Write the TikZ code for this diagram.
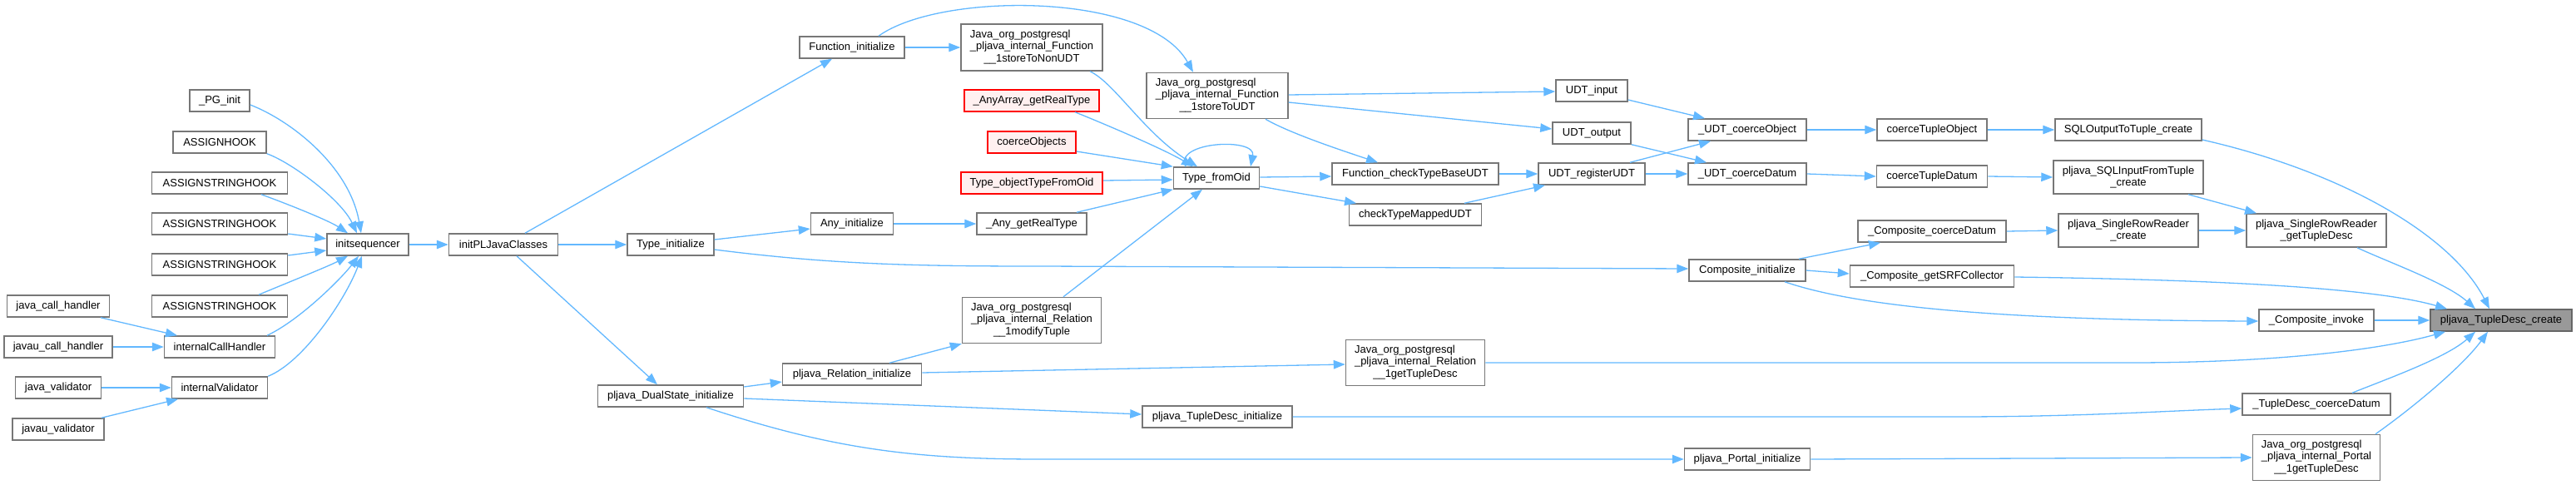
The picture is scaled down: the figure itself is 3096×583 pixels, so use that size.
\documentclass[tikz,border=0pt]{standalone}
\usepackage{fontspec}
\setmainfont{Liberation Sans}
\usetikzlibrary{arrows.meta}
\definecolor{edgeblue}{HTML}{63B8FF}
\definecolor{boxgray}{HTML}{777777}
\definecolor{redfill}{HTML}{FFF0F0}
\definecolor{targetfill}{HTML}{999999}
\definecolor{targetdraw}{HTML}{666666}
\newcommand{\nodefont}{\fontsize{13pt}{14.5pt}\selectfont}
\newcommand{\jtxt}[3]{\begin{tabular}{@{}l@{}}#1\\#2\\\multicolumn{1}{@{}c@{}}{#3}\end{tabular}}
\tikzset{
  box/.style={draw=boxgray, fill=white, line width=1.5pt, inner sep=0pt, font=\nodefont, align=center, minimum height=26pt},
  redbox/.style={box, draw=red, fill=redfill},
  targetbox/.style={box, draw=targetdraw, fill=targetfill},
  edge/.style={draw=edgeblue, line width=1.3pt, -{Triangle[length=14pt,width=10.5pt]}}
}
\begin{document}
\begin{tikzpicture}[x=1pt,y=-1pt]
\useasboundingbox (0,0) rectangle (3096,583);
% nodes
\node[box,minimum width=72pt] (pginit) at (264,121) {\_PG\_init};
\node[box,minimum width=112pt] (assignhook) at (264,171) {ASSIGNHOOK};
\node[box,minimum width=163pt] (ash1) at (264,220) {ASSIGNSTRINGHOOK};
\node[box,minimum width=163pt] (ash2) at (264,269) {ASSIGNSTRINGHOOK};
\node[box,minimum width=163pt] (ash3) at (264,318) {ASSIGNSTRINGHOOK};
\node[box,minimum width=163pt] (ash4) at (264,368) {ASSIGNSTRINGHOOK};
\node[box,minimum width=123pt] (jch) at (70,368) {java\_call\_handler};
\node[box,minimum width=130pt] (jvch) at (70,417) {javau\_call\_handler};
\node[box,minimum width=133pt] (ich) at (264,417) {internalCallHandler};
\node[box,minimum width=103pt] (jv) at (70,466) {java\_validator};
\node[box,minimum width=115pt] (iv) at (264,466) {internalValidator};
\node[box,minimum width=110pt] (jvv) at (70,516) {javau\_validator};
\node[box,minimum width=98pt] (initseq) at (442,294) {initsequencer};
\node[box,minimum width=131pt] (initpl) at (605,294) {initPLJavaClasses};
\node[box,minimum width=104pt] (typeinit) at (806,294) {Type\_initialize};
\node[box,minimum width=175pt] (dualstate) at (806,476) {pljava\_DualState\_initialize};
\node[box,minimum width=126pt] (funcinit) at (1024,57) {Function\_initialize};
\node[box,minimum width=99pt] (anyinit) at (1024,269) {Any\_initialize};
\node[box,minimum width=167pt] (relinit) at (1024,450) {pljava\_Relation\_initialize};
\node[box,minimum width=170pt,minimum height=56pt] (nonudt) at (1240,57) {\jtxt{Java\_org\_postgresql}{\_pljava\_internal\_Function}{\_\_1storeToNonUDT}};
\node[redbox,minimum width=162pt] (anyarray) at (1240,121) {\_AnyArray\_getRealType};
\node[redbox,minimum width=106pt] (coerceobj) at (1240,171) {coerceObjects};
\node[redbox,minimum width=170pt] (objtype) at (1240,220) {Type\_objectTypeFromOid};
\node[box,minimum width=132pt] (anyreal) at (1240,269) {\_Any\_getRealType};
\node[box,minimum width=167pt,minimum height=55pt] (modtuple) at (1240,385) {\jtxt{Java\_org\_postgresql}{\_pljava\_internal\_Relation}{\_\_1modifyTuple}};
\node[box,minimum width=170pt,minimum height=55pt] (udt) at (1463,115) {\jtxt{Java\_org\_postgresql}{\_pljava\_internal\_Function}{\_\_1storeToUDT}};
\node[box,minimum width=103pt] (fromoid) at (1462,214) {Type\_fromOid};
\node[box,minimum width=180pt] (tdinit) at (1463,501) {pljava\_TupleDesc\_initialize};
\node[box,minimum width=200pt] (checkbase) at (1701,209) {Function\_checkTypeBaseUDT};
\node[box,minimum width=159pt] (checkmapped) at (1701,258) {checkTypeMappedUDT};
\node[box,minimum width=167pt,minimum height=55pt] (relgettd) at (1701,436) {\jtxt{Java\_org\_postgresql}{\_pljava\_internal\_Relation}{\_\_1getTupleDesc}};
\node[box,minimum width=86pt] (udtinput) at (1913,109) {UDT\_input};
\node[box,minimum width=94pt] (udtoutput) at (1913,160) {UDT\_output};
\node[box,minimum width=128pt] (udtreg) at (1913,209) {UDT\_registerUDT};
\node[box,minimum width=142pt] (coerceobject) at (2100,156) {\_UDT\_coerceObject};
\node[box,minimum width=142pt] (coercedatum) at (2100,209) {\_UDT\_coerceDatum};
\node[box,minimum width=140pt] (compinit) at (2100,325) {Composite\_initialize};
\node[box,minimum width=151pt] (portalinit) at (2100,552) {pljava\_Portal\_initialize};
\node[box,minimum width=132pt] (ctobject) at (2322,156) {coerceTupleObject};
\node[box,minimum width=133pt] (ctdatum) at (2322,212) {coerceTupleDatum};
\node[box,minimum width=178pt] (compcoerce) at (2322,278) {\_Composite\_coerceDatum};
\node[box,minimum width=197pt] (compsrf) at (2322,332) {\_Composite\_getSRFCollector};
\node[box,minimum width=176pt] (sqlout) at (2558,156) {SQLOutputToTuple\_create};
\node[box,minimum width=180pt,minimum height=40pt] (sqlin) at (2558,213) {pljava\_SQLInputFromTuple\\\_create};
\node[box,minimum width=168pt,minimum height=40pt] (srrcreate) at (2558,277) {pljava\_SingleRowReader\\\_create};
\node[box,minimum width=168pt,minimum height=40pt] (srrget) at (2784,277) {pljava\_SingleRowReader\\\_getTupleDesc};
\node[box,minimum width=138pt] (compinvoke) at (2784,385) {\_Composite\_invoke};
\node[box,minimum width=178pt] (tdcoerce) at (2784,486) {\_TupleDesc\_coerceDatum};
\node[box,minimum width=153pt,minimum height=55pt] (portalget) at (2784,550) {\jtxt{Java\_org\_postgresql}{\_pljava\_internal\_Portal}{\_\_1getTupleDesc}};
\node[targetbox,minimum width=170pt] (target) at (3006,385) {pljava\_TupleDesc\_create};
% edges
\draw[edge] ([yshift=-5pt]pginit.east) .. controls (350,145) and (420,200) .. ([xshift=-8pt]initseq.north);
\draw[edge] (assignhook.south east) .. controls (350,195) and (410,240) .. ([xshift=-13pt]initseq.north);
\draw[edge] ([xshift=50pt]ash1.south) .. controls (345,245) and (395,265) .. ([xshift=-24pt]initseq.north);
\draw[edge] ([yshift=-12pt]ash2.east) -- ([yshift=7pt]initseq.west);
\draw[edge] ([yshift=11pt]ash3.east) -- ([yshift=-7pt]initseq.west);
\draw[edge] ([xshift=47pt]ash4.north) .. controls (345,340) and (395,320) .. ([xshift=-24pt]initseq.south);
\draw[edge] ([xshift=57pt]ich.north) .. controls (360,385) and (410,335) .. ([xshift=-11pt]initseq.south);
\draw[edge] (iv.north east) .. controls (365,435) and (415,360) .. ([xshift=-7pt]initseq.south);
\draw[edge] ([xshift=51pt]jch.south) -- ([xshift=-51pt]ich.north);
\draw[edge] (jvch.east) -- (ich.west);
\draw[edge] (jv.east) -- (iv.west);
\draw[edge] ([xshift=52pt]jvv.north) -- ([xshift=-50pt]iv.south);
\draw[edge] (initseq.east) -- (initpl.west);
\draw[edge] ([xshift=26pt]initpl.north) -- ([xshift=-24pt]funcinit.south);
\draw[edge] (initpl.east) -- (typeinit.west);
\draw[edge] ([xshift=16pt]initpl.south) -- ([xshift=-16pt]dualstate.north);
\draw[edge] (funcinit.east) -- (nonudt.west);
\draw[edge] ([xshift=32pt]funcinit.north) .. controls (1130,-10) and (1380,-10) .. ([xshift=-29pt]udt.north);
\draw[edge] ([xshift=70pt]nonudt.south) .. controls (1340,100) and (1375,160) .. ([xshift=-23pt]fromoid.north);
\draw[edge] ([xshift=52pt]anyarray.south) .. controls (1330,150) and (1400,180) .. ([xshift=-28pt]fromoid.north);
\draw[edge] ([yshift=-11pt]coerceobj.east) -- (fromoid.north west);
\draw[edge] ([yshift=3pt]objtype.east) -- ([yshift=-2pt]fromoid.west);
\draw[edge] ([xshift=54pt]anyreal.north) -- (fromoid.south west);
\draw[edge] (anyinit.east) -- (anyreal.west);
\draw[edge] ([yshift=6pt]typeinit.east) -- ([yshift=-6pt]anyinit.west);
\draw[edge] ([yshift=-6pt]typeinit.east) .. controls (1000,318) and (1100,320) .. (1250,320) -- ([yshift=2pt]compinit.west);
\draw[edge] ([xshift=38pt]modtuple.north) -- ([xshift=-17pt]fromoid.south);
\draw[edge] ([xshift=-37pt]fromoid.north) .. controls (1410,170) and (1510,165) .. ([xshift=41pt]fromoid.north);
\draw[edge] ([yshift=1pt]udt.east) -- ([yshift=-1pt]udtinput.west);
\draw[edge] ([yshift=-8pt]udt.east) -- ([yshift=5pt]udtoutput.west);
\draw[edge] ([xshift=58pt]udt.south) .. controls (1550,160) and (1610,180) .. ([xshift=-45pt]checkbase.north);
\draw[edge] ([yshift=1pt]fromoid.east) -- ([yshift=-3pt]checkbase.west);
\draw[edge] ([yshift=-10pt]fromoid.east) -- ([xshift=-71pt]checkmapped.north);
\draw[edge] (checkbase.east) -- (udtreg.west);
\draw[edge] ([xshift=59pt]checkmapped.north) -- ([xshift=-56pt]udtreg.south);
\draw[edge] ([yshift=-11pt]udtinput.east) -- ([xshift=-51pt]coerceobject.north);
\draw[edge] (udtoutput.south east) -- ([xshift=-49pt]coercedatum.north);
\draw[edge] ([xshift=46pt]udtreg.north) -- ([xshift=-44pt]coerceobject.south);
\draw[edge] (udtreg.east) -- (coercedatum.west);
\draw[edge] (coerceobject.east) -- (ctobject.west);
\draw[edge] (coercedatum.east) -- (ctdatum.west);
\draw[edge] (ctobject.east) -- (sqlout.west);
\draw[edge] (ctdatum.east) -- (sqlin.west);
\draw[edge] ([yshift=-12pt]sqlout.east) .. controls (2810,205) and (2945,280) .. ([xshift=-14pt]target.north);
\draw[edge] ([xshift=72pt]sqlin.south) -- ([xshift=-72pt]srrget.north);
\draw[edge] (compcoerce.east) -- (srrcreate.west);
\draw[edge] (srrcreate.east) -- (srrget.west);
\draw[edge] ([xshift=49pt]srrget.south) .. controls (2870,315) and (2940,340) .. ([xshift=-31pt]target.north);
\draw[edge] ([xshift=62pt]compinit.north) -- ([xshift=-62pt]compcoerce.south);
\draw[edge] (compinit.east) -- ([yshift=3pt]compsrf.west);
\draw[edge] ([xshift=45pt]compinit.south) .. controls (2230,368) and (2400,385) .. ([yshift=-1pt]compinvoke.west);
\draw[edge] ([yshift=-1pt]compsrf.east) .. controls (2650,336) and (2850,345) .. ([xshift=-65pt]target.north);
\draw[edge] (compinvoke.east) -- (target.west);
\draw[edge] ([yshift=11pt]dualstate.east) -- ([yshift=-9pt]relinit.west);
\draw[edge] ([yshift=-3pt]dualstate.east) -- ([yshift=3pt]tdinit.west);
\draw[edge] ([xshift=43pt]dualstate.south) .. controls (1000,540) and (1100,552) .. (1250,552) -- (portalinit.west);
\draw[edge] ([xshift=45pt]relinit.north) -- (modtuple.south west);
\draw[edge] ([yshift=2pt]relinit.east) -- ([yshift=-2pt]relgettd.west);
\draw[edge] (relgettd.east) -- (2560,436) .. controls (2750,436) and (2870,418) .. ([xshift=-67pt]target.south);
\draw[edge] (tdinit.east) -- (2350,501) .. controls (2500,501) and (2600,494) .. ([yshift=-5pt]tdcoerce.west);
\draw[edge] ([xshift=43pt]tdcoerce.north) .. controls (2870,455) and (2940,430) .. ([xshift=-31pt]target.south);
\draw[edge] (portalinit.east) -- (portalget.west);
\draw[edge] ([xshift=71pt]portalget.north) .. controls (2900,490) and (2960,440) .. ([xshift=-16pt]target.south);
\end{tikzpicture}
\end{document}
